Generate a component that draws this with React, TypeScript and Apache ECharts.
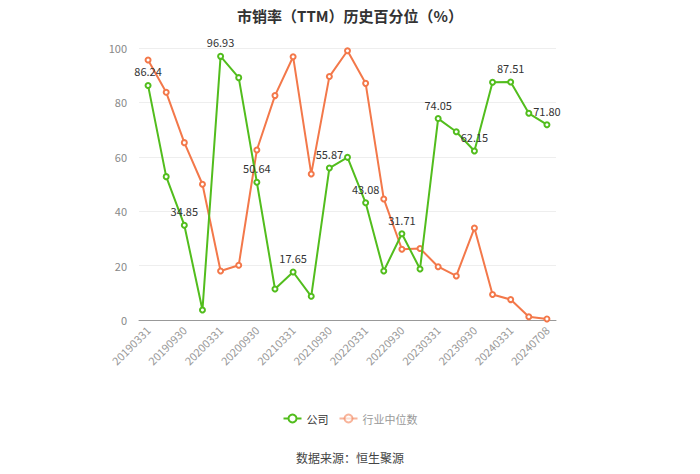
import React, { useEffect, useRef } from "react";
import * as echarts from "echarts";

const categories = [
  "20190331", "20190630", "20190930", "20191231", "20200331", "20200630",
  "20200930", "20201231", "20210331", "20210630", "20210930", "20211231",
  "20220331", "20220630", "20220930", "20221231", "20230331", "20230630",
  "20230930", "20231231", "20240331", "20240630", "20240708",
];

const companyValues = [
  86.24, 52.7, 34.85, 3.7, 96.93, 89.1, 50.64, 11.4, 17.65, 8.7, 55.87, 59.8,
  43.08, 18.0, 31.71, 18.75, 74.05, 69.2, 62.15, 87.4, 87.51, 76.0, 71.8,
];

const industryValues = [
  95.6, 83.7, 65.2, 49.9, 18.0, 20.1, 62.5, 82.5, 96.8, 53.7, 89.5, 99.0,
  87.0, 44.5, 26.0, 26.3, 19.6, 16.2, 33.8, 9.4, 7.5, 1.2, 0.4,
];

const yTicks = { min: 0, max: 100, interval: 20 };

const GREEN = "#52bd1d";
const ORANGE = "#f3784a";

export default function App() {
  const ref = useRef<HTMLDivElement>(null);

  useEffect(() => {
    document.body.style.margin = "0";
    if (!ref.current) return;
    const chart = echarts.init(ref.current, undefined, { renderer: "svg" });
    const font = "'Noto Sans CJK SC', 'Noto Sans', sans-serif";
    chart.setOption({
      animation: false,
      textStyle: { fontFamily: font },
      title: {
        text: "市销率（TTM）历史百分位（%）",
        left: "center",
        top: 3,
        textStyle: { fontSize: 15, fontWeight: "bold", color: "#333", fontFamily: font },
      },
      legend: {
        top: 408,
        left: "center",
        itemWidth: 18,
        itemHeight: 10,
        itemGap: 10,
        textStyle: { fontSize: 11, color: "#333" },
        data: [
          { name: "公司" },
          { name: "行业中位数", textStyle: { color: "#999" }, itemStyle: { opacity: 0.55 }, lineStyle: { opacity: 0.55 } },
        ],
      },
      graphic: [
        {
          type: "text",
          left: "center",
          top: 451,
          style: { text: "数据来源：恒生聚源", fill: "#444", font: `12px ${font}` },
        },
      ],
      grid: { left: 139, right: 144, top: 48, bottom: 154 },
      xAxis: {
        type: "category",
        data: categories,
        boundaryGap: true,
        axisLine: { lineStyle: { color: "#999" } },
        axisTick: { alignWithLabel: true, interval: 1, lineStyle: { color: "#999" } },
        axisLabel: { interval: 1, rotate: 45, fontSize: 11, color: "#999", margin: 8 },
      },
      yAxis: {
        type: "value",
        min: yTicks.min,
        max: yTicks.max,
        interval: yTicks.interval,
        axisLine: { show: false },
        axisTick: { show: false },
        axisLabel: { fontSize: 11, color: "#888", margin: 12 },
        splitLine: { lineStyle: { color: "#eee" } },
      },
      series: [
        {
          name: "公司",
          type: "line",
          data: companyValues,
          symbol: "emptyCircle",
          symbolSize: 5,
          itemStyle: { color: GREEN },
          lineStyle: { width: 2, color: GREEN },
          label: {
            show: true,
            position: "top",
            fontSize: 11,
            color: "#333",
            formatter: (p: any) => (p.dataIndex % 2 === 0 ? p.value.toFixed(2) : ""),
          },
          z: 3,
        },
        {
          name: "行业中位数",
          type: "line",
          data: industryValues,
          symbol: "emptyCircle",
          symbolSize: 5,
          itemStyle: { color: ORANGE },
          lineStyle: { width: 2, color: ORANGE },
          z: 2,
        },
      ],
    });
    return () => chart.dispose();
  }, []);

  return <div ref={ref} style={{ width: 700, height: 474 }} />;
}
